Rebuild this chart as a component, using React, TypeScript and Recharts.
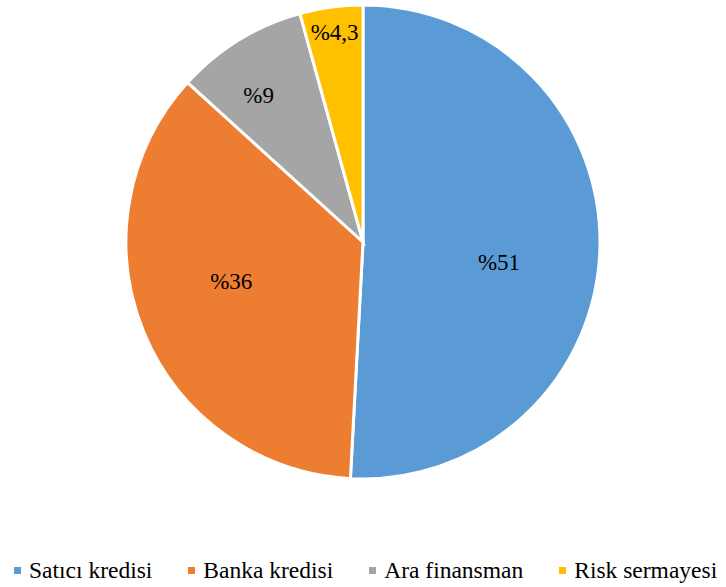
import React from "react";
import { PieChart, Pie, Cell, Legend } from "recharts";

// Financing sources (percent shares)
const categories = ["Satıcı kredisi", "Banka kredisi", "Ara finansman", "Risk sermayesi"];
const shares = [51, 36, 9, 4.3];
const shareLabels = ["%51", "%36", "%9", "%4,3"];

const colors = ["#5B9BD5", "#ED7D31", "#A5A5A5", "#FFC000"];

// Label placement inside each slice: radius fraction and angle nudge (degrees)
const labelRadius = [0.58, 0.58, 0.76, 0.89];
const labelAngleShift = [-6.9, -5.7, 3.8, 0];

const data = categories.map((name, i) => ({ name, value: shares[i], label: shareLabels[i] }));

const SERIF = '"Times New Roman", Times, Tinos, "DejaVu Serif", serif';
const RAD = Math.PI / 180;

const renderLabel = (props: any) => {
  const { cx, cy, midAngle, outerRadius, index } = props;
  const a = (midAngle + labelAngleShift[index]) * RAD;
  const r = outerRadius * labelRadius[index];
  const x = cx + r * Math.cos(a);
  const y = cy - r * Math.sin(a);
  return (
    <text
      x={x}
      y={y}
      textAnchor="middle"
      dominantBaseline="central"
      fill="#000"
      style={{ fontFamily: SERIF, fontSize: 23 }}
    >
      {data[index].label}
    </text>
  );
};

const renderLegend = () => (
  <div
    style={{
      display: "flex",
      alignItems: "center",
      height: 32,
      lineHeight: "32px",
      fontFamily: SERIF,
      fontSize: 23.5,
      color: "#000",
      paddingLeft: 14,
      whiteSpace: "nowrap",
    }}
  >
    {categories.map((c, i) => (
      <div
        key={c}
        style={{ display: "flex", alignItems: "center", marginRight: i < categories.length - 1 ? 36 : 0 }}
      >
        <span
          style={{ display: "inline-block", width: 7, height: 7, background: colors[i], marginRight: 8 }}
        />
        <span>{c}</span>
      </div>
    ))}
  </div>
);

export default function App() {
  return (
    <div style={{ position: "absolute", left: 0, top: 0, width: 726, height: 587, background: "#fff" }}>
      <PieChart width={726} height={587} margin={{ top: 0, right: 0, bottom: 0, left: 0 }}>
        <Pie
          data={data}
          dataKey="value"
          nameKey="name"
          cx={363}
          cy={242}
          outerRadius={237}
          startAngle={90}
          endAngle={-270}
          stroke="#ffffff"
          strokeWidth={3}
          label={renderLabel}
          labelLine={false}
          isAnimationActive={false}
        >
          {data.map((d, i) => (
            <Cell key={d.name} fill={colors[i]} />
          ))}
        </Pie>
        <Legend
          content={renderLegend}
          wrapperStyle={{ position: "absolute", left: 0, top: 554, width: 726, height: 32 }}
        />
      </PieChart>
    </div>
  );
}
